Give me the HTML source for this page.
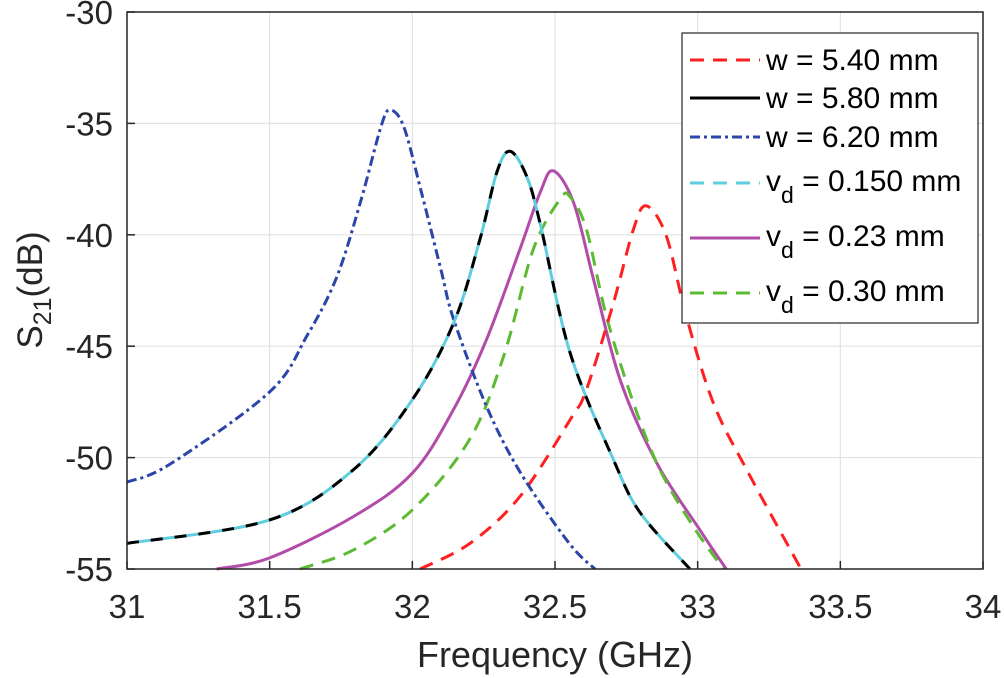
<!DOCTYPE html>
<html><head><meta charset="utf-8"><style>
html,body{margin:0;padding:0;background:#fff;}
svg{display:block;font-family:"Liberation Sans",Arial,sans-serif;}
</style></head><body>
<svg id="chart" width="1004" height="678" viewBox="0 0 1004 678">
<g id="grid"></g>
<g id="curves"></g>
<rect x="127" y="12" width="856" height="557" fill="none" stroke="#262626" stroke-width="1.5"/>
<g id="ticks"></g>
<text x="555" y="667" font-size="36" fill="#262626" text-anchor="middle">Frequency (GHz)</text>
<text transform="translate(42,290) rotate(-90)" font-size="35" fill="#262626" text-anchor="middle">S<tspan font-size="25" dy="9">21</tspan><tspan dy="-9">(dB)</tspan></text>
<g>
<rect x="682" y="33" width="296" height="290" fill="#fff" stroke="#262626" stroke-width="1.2"/>
<g font-size="30" fill="#000">
<line x1="690" y1="60" x2="760" y2="60" stroke="#ff1f1f" stroke-width="3" stroke-dasharray="14,9"/>
<text x="766" y="70">w = 5.40 mm</text>
<line x1="690" y1="98" x2="760" y2="98" stroke="#000" stroke-width="3"/>
<text x="766" y="108">w = 5.80 mm</text>
<line x1="690" y1="137" x2="760" y2="137" stroke="#2b45a8" stroke-width="3" stroke-dasharray="10,4,3,4"/>
<text x="766" y="147">w = 6.20 mm</text>
<line x1="690" y1="183" x2="760" y2="183" stroke="#5fcde0" stroke-width="3" stroke-dasharray="14,9"/>
<text x="766" y="191">v<tspan font-size="23" dy="12">d</tspan><tspan dy="-12"> = 0.150 mm</tspan></text>
<line x1="690" y1="238" x2="760" y2="238" stroke="#b34ca8" stroke-width="3"/>
<text x="766" y="246">v<tspan font-size="23" dy="12">d</tspan><tspan dy="-12"> = 0.23 mm</tspan></text>
<line x1="690" y1="293" x2="760" y2="293" stroke="#5cba33" stroke-width="3" stroke-dasharray="14,9"/>
<text x="766" y="301">v<tspan font-size="23" dy="12">d</tspan><tspan dy="-12"> = 0.30 mm</tspan></text>
</g></g>
</svg>
<script>
const xTicks=[31,31.5,32,32.5,33,33.5,34];
const xTickLabels=["31","31.5","32","32.5","33","33.5","34"];
const yTicks=[-30,-35,-40,-45,-50,-55];
const yTickLabels=["-30","-35","-40","-45","-50","-55"];
const redF=[32.027,32.202,32.377,32.553,32.61,32.705,32.775,32.82,32.89,32.96,33.055,33.172,33.36];
const redDB=[-55,-53.85,-51.75,-48.3,-46.95,-43.05,-39.75,-38.7,-40.05,-43.65,-47.55,-50.55,-54.95];
const blackF=[31,31.5,31.793,32.0,32.145,32.237,32.296,32.342,32.40,32.448,32.553,32.705,32.8,32.973];
const blackDB=[-53.85,-52.8,-50.55,-47.4,-43.95,-40.2,-37.2,-36.25,-37.35,-39.5,-45.3,-50.1,-52.5,-55];
const blueF=[31,31.15,31.5,31.63,31.735,31.82,31.89,31.922,31.97,32.03,32.10,32.145,32.26,32.38,32.55,32.64];
const blueDB=[-51.1,-50.3,-47.05,-44.55,-41.9,-38.45,-35.15,-34.4,-35.15,-38.0,-41.55,-43.8,-47.7,-50.7,-53.85,-55];
const magF=[31.314,31.5,31.793,32.0,32.144,32.26,32.377,32.448,32.494,32.565,32.635,32.728,32.857,33.008,33.10];
const magDB=[-55,-54.5,-52.65,-50.7,-47.85,-44.7,-40.65,-38.1,-37.13,-38.55,-42.0,-46.5,-50.25,-53.25,-55];
const greenF=[31.606,31.793,32.0,32.2,32.32,32.424,32.518,32.553,32.61,32.68,32.775,32.868,32.985,33.09];
const greenDB=[-55,-54.15,-52.35,-49.2,-45.45,-40.65,-38.4,-38.3,-39.75,-43.65,-47.55,-50.55,-53.1,-55];

const X0=127,X1=983,Y0=12,Y1=569;
function xs(f){return X0+(f-31)/(34-31)*(X1-X0);}
function ys(d){return Y0+(-30-d)/25*(Y1-Y0);}
const NS="http://www.w3.org/2000/svg";
const grid=document.getElementById('grid'),ticks=document.getElementById('ticks'),curves=document.getElementById('curves');
function mk(tag,attrs,parent){const e=document.createElementNS(NS,tag);for(const k in attrs)e.setAttribute(k,attrs[k]);parent.appendChild(e);return e;}
xTicks.forEach((t,i)=>{
  const x=xs(t);
  const g=mk('line',{x1:x,y1:Y0,x2:x,y2:Y1,stroke:'#e3e3e3','stroke-width':1.2},grid);
  
  
  const tk=mk('line',{x1:x,y1:Y1,x2:x,y2:Y1-8,stroke:'#262626','stroke-width':1.5},ticks);
  
  
  const tx=mk('text',{x:x,y:618,'font-size':33,fill:'#262626','text-anchor':'middle'},ticks);
  tx.textContent=xTickLabels[i];
  
  
});
yTicks.forEach((t,i)=>{
  const y=ys(t);
  const g=mk('line',{x1:X0,y1:y,x2:X1,y2:y,stroke:'#e3e3e3','stroke-width':1.2},grid);
  
  
  const tk=mk('line',{x1:X0,y1:y,x2:X0+8,y2:y,stroke:'#262626','stroke-width':1.5},ticks);
  
  
  const tx=mk('text',{x:113,y:y+12,'font-size':33,fill:'#262626','text-anchor':'end'},ticks);
  tx.textContent=yTickLabels[i];
  
  
});
function pathD(F,D){
  const p=F.map((f,i)=>[xs(f),ys(D[i])]);
  let d='M'+p[0][0]+','+p[0][1];
  for(let i=0;i<p.length-1;i++){
    const p0=p[i-1]||p[i],p1=p[i],p2=p[i+1],p3=p[i+2]||p2;
    const c1=[p1[0]+(p2[0]-p0[0])/6,p1[1]+(p2[1]-p0[1])/6];
    const c2=[p2[0]-(p3[0]-p1[0])/6,p2[1]-(p3[1]-p1[1])/6];
    d+=' C'+c1[0]+','+c1[1]+' '+c2[0]+','+c2[1]+' '+p2[0]+','+p2[1];
  }
  return d;
}
function draw(F,D,color,dash,name){
  const a={d:pathD(F,D),fill:'none',stroke:color,'stroke-width':3,'stroke-linejoin':'round'};
  if(dash)a['stroke-dasharray']=dash;
  const e=mk('path',a,curves);
  
  
}
draw(magF,magDB,'#b34ca8',null,'series-vd-0-23');
draw(greenF,greenDB,'#5cba33','14,9','series-vd-0-30');
draw(redF,redDB,'#ff1f1f','14,9','series-w-5-40');
draw(blueF,blueDB,'#2b45a8','10,4,3,4','series-w-6-20');
draw(blackF,blackDB,'#5fcde0',null,'series-vd-0-150');
draw(blackF,blackDB,'#000','12,12','series-w-5-80');
</script>
</body></html>
